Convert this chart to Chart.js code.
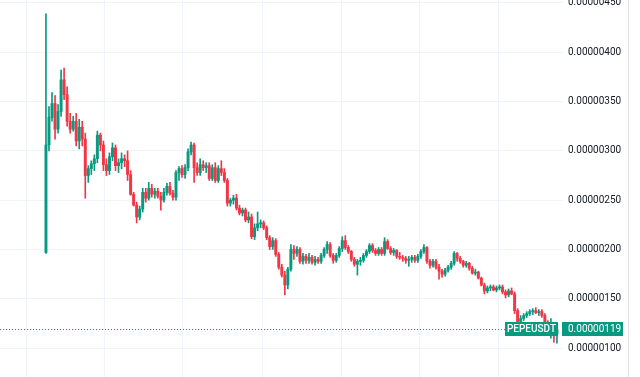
<!DOCTYPE html>
<html>
<head>
<meta charset="utf-8">
<title>PEPEUSDT</title>
<script src="https://cdn.jsdelivr.net/npm/chart.js@4.4.1/dist/chart.umd.min.js"></script>
<style>
  html, body { margin: 0; padding: 0; background: #fff; }
  #wrap { width: 640px; height: 377px; position: relative; }
</style>
</head>
<body>
<div id="wrap"><canvas id="chart" width="640" height="377"></canvas></div>
<script>
// prices in units of 0.00000001 USDT, one candle per entry
const open = [197,306,334,348,322,340,372,357,330,322,
  330,310,324,312,275,282,287,292,316,306,286,280,294,303,285,288,292,290,
  276,256,245,233,241,258,252,262,256,259,254,250,258,264,257,253,278,282,276,283,299,
  306,283,278,286,283,285,272,283,270,282,278,270,247,250,252,242,237,240,230,233,213,222,226,227,222,212,203,209,195,182,174,164,180,
  200,196,200,188,193,189,192,187,190,188,194,200,205,194,189,194,201,209,202,198,190,185,188,189,194,198,204,199,196,200,196,208,201,197,199,
  193,192,191,189,190,192,189,193,198,202,188,184,188,182,178,175,179,182,186,196,191,188,184,186,181,176,177,171,164,158,161,162,159,161,162,157,154,158,155,138,127,130,133,135,137,138,136,137,133,125,118,122,114];
const high = [439,345,359,356,347,382,384,365,338,335,
  338,332,330,318,285,290,296,320,318,310,292,298,308,306,292,298,296,300,
  280,258,248,244,262,262,268,266,262,262,258,262,267,268,260,280,284,285,286,302,309,
  308,288,292,290,288,288,286,288,285,290,282,272,252,255,256,245,242,242,238,236,226,238,230,229,224,214,212,211,197,185,178,182,205,
  204,203,202,196,195,196,194,193,192,196,202,208,207,196,196,203,213,214,204,199,192,190,192,196,200,206,206,201,202,202,212,210,203,201,200,
  197,194,193,193,194,194,195,200,205,203,190,190,190,185,180,181,184,188,198,197,193,189,188,187,183,180,178,172,166,163,164,164,163,164,164,159,160,161,157,140,133,135,137,139,140,141,139,139,135,128,130,124,122];
const low = [196,300,330,312,318,335,352,325,318,320,
  305,302,305,252,268,276,280,288,300,280,275,276,290,280,278,282,284,270,
  255,244,227,230,238,248,250,253,252,252,240,248,255,255,250,250,270,273,272,280,296,
  268,275,275,280,278,270,270,268,268,275,268,244,244,246,240,235,234,228,227,211,210,219,222,220,210,200,200,193,180,172,154,160,178,
  190,193,186,185,186,186,185,184,186,186,192,196,192,186,187,192,198,200,196,188,183,174,184,187,192,196,197,194,194,194,194,200,195,194,191,
  190,188,186,183,187,187,187,191,196,186,181,182,180,170,172,173,177,180,184,188,186,182,182,179,175,174,170,163,155,156,158,158,157,159,155,151,152,154,135,124,124,128,131,133,134,135,133,131,122,113,110,106,105];
const close = [306,334,348,322,340,372,357,330,322,330,
  310,324,312,275,282,287,292,316,306,286,280,294,303,285,288,292,290,276,
  256,245,233,241,258,252,262,256,259,254,250,258,264,257,253,278,282,276,283,299,306,
  283,278,286,283,285,272,283,270,282,278,270,247,250,252,242,237,240,230,233,213,222,226,227,222,212,203,209,195,182,174,164,180,200,
  196,200,188,193,189,192,187,190,188,194,200,205,194,189,194,201,209,202,198,190,185,188,189,194,198,204,199,196,200,196,208,201,197,199,193,
  192,191,189,190,192,189,193,198,202,188,184,188,182,178,175,179,182,186,196,191,188,184,186,181,176,177,171,164,158,161,162,159,161,162,157,154,158,155,138,127,130,133,135,137,138,136,137,133,125,118,122,114,119];

const symbol = 'PEPEUSDT';
const yTicks = [100, 150, 200, 250, 300, 350, 400, 450];
// time axis grid lines, as candle index
const timeGrid = [6.3, 32.1, 58.5, 84.7, 110.5, 136.9, 162.7];

const UP = '#089981';
const DOWN = '#f23645';
const GRID = '#f0f3fa';

const fmt = v => (v / 1e8).toFixed(8);

const idx = close.map((_, i) => i);
const colors = idx.map(i => close[i] >= open[i] ? UP : DOWN);

const lastPrice = {
  id: 'lastPrice',
  afterDatasetsDraw(chart) {
    const { ctx, chartArea: a, scales: { y } } = chart;
    const last = close[close.length - 1];
    const py = Math.round(y.getPixelForValue(last)) + 0.5;
    ctx.save();
    ctx.font = '500 10px Roboto';
    const bw = ctx.measureText(symbol).width + 4;
    const bx = a.right - 5 - bw;

    ctx.strokeStyle = UP;
    ctx.lineWidth = 1;
    ctx.setLineDash([1, 2]);
    ctx.beginPath();
    ctx.moveTo(a.left, py);
    ctx.lineTo(bx, py);
    ctx.stroke();
    ctx.setLineDash([]);

    ctx.fillStyle = UP;
    ctx.fillRect(bx, py - 7.5, bw, 14);
    ctx.fillRect(a.right - 1, py - 7.5, 61, 14);
    ctx.fillStyle = '#fff';
    ctx.textBaseline = 'middle';
    ctx.fillText(symbol, bx + 2, py);
    ctx.font = '10px Roboto';
    ctx.fillText(fmt(last), a.right + 5, py);

    // right edge of the price scale
    ctx.strokeStyle = '#e0e3eb';
    ctx.beginPath();
    ctx.moveTo(628.5, 0);
    ctx.lineTo(628.5, chart.height);
    ctx.stroke();
    ctx.restore();
  }
};

new Chart(document.getElementById('chart'), {
  type: 'bar',
  data: {
    datasets: [{
      label: 'body',
      data: idx.map(i => ({ x: i, y: [open[i], close[i]] })),
      backgroundColor: colors,
      barThickness: 2.3,
      minBarLength: 1,
      grouped: false
    }, {
      label: 'wick',
      data: idx.map(i => ({ x: i, y: [low[i], high[i]] })),
      backgroundColor: colors,
      barThickness: 1,
      grouped: false
    }]
  },
  options: {
    responsive: false,
    animation: false,
    devicePixelRatio: 1,
    layout: { padding: 0 },
    plugins: { legend: { display: false }, tooltip: { enabled: false } },
    scales: {
      x: {
        type: 'linear',
        min: -15.2,
        max: 171,
        offset: false,
        ticks: { display: false },
        grid: { color: GRID, drawTicks: false },
        border: { display: false },
        afterBuildTicks: s => { s.ticks = timeGrid.map(v => ({ value: v })); },
        afterFit: s => { s.height = 0; }
      },
      y: {
        position: 'right',
        min: 70.7,
        max: 453,
        grid: { color: GRID, drawTicks: false },
        border: { display: false },
        ticks: {
          autoSkip: false,
          padding: 5,
          color: '#131722',
          font: { family: 'Roboto', size: 10 },
          callback: v => fmt(v)
        },
        afterBuildTicks: s => { s.ticks = yTicks.map(v => ({ value: v })); },
        afterFit: s => { s.width = 77; s.paddingTop = 0; s.paddingBottom = 0; }
      }
    }
  },
  plugins: [lastPrice]
});
</script>
</body>
</html>
